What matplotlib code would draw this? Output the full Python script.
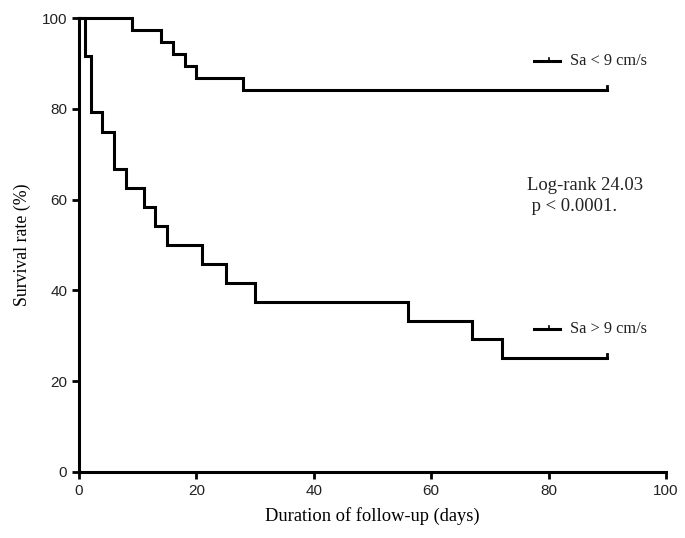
import matplotlib
matplotlib.use("Agg")
import matplotlib.pyplot as plt

# Kaplan-Meier step data (days, survival %)
low_times = [0, 9, 14, 16, 18, 20, 28, 90]
low_surv = [100, 97.4, 94.7, 92.1, 89.5, 86.8, 84.2, 84.2]
low_label = "Sa < 9 cm/s"

high_times = [0, 1, 2, 4, 6, 8, 11, 13, 15, 21, 25, 30, 56, 67, 72, 90]
high_surv = [100, 91.7, 79.2, 75.0, 66.7, 62.5, 58.3, 54.2, 50.0, 45.8, 41.7, 37.5, 33.3, 29.2, 25.0, 25.0]
high_label = "Sa > 9 cm/s"

x_ticks = [0, 20, 40, 60, 80, 100]
y_ticks = [0, 20, 40, 60, 80, 100]
x_label = "Duration of follow-up (days)"
y_label = "Survival rate (%)"
stat_text = "Log-rank 24.03\n p < 0.0001."

serif = ["Liberation Serif", "DejaVu Serif"]
sans = ["Liberation Sans", "DejaVu Sans"]

fig = plt.figure(figsize=(6.85, 5.38), dpi=100)
ax = fig.add_axes([0.1153, 0.1227, 0.857, 0.8438])

for t, s in [(low_times, low_surv), (high_times, high_surv)]:
    ax.step(t, s, where="post", color="black", lw=2.2, clip_on=False,
            solid_joinstyle="miter")
    # censor tick at the end
    ax.plot([t[-1], t[-1]], [s[-1], s[-1] + 0.9], color="black", lw=2.0,
            clip_on=False)

ax.set_xlim(0, 100)
ax.set_ylim(0, 100)
ax.set_xticks(x_ticks)
ax.set_yticks(y_ticks)
for sp in ["top", "right"]:
    ax.spines[sp].set_visible(False)
for sp in ["left", "bottom"]:
    ax.spines[sp].set_linewidth(2.2)
ax.tick_params(direction="out", length=5, width=2.0, labelsize=11)
for lab in ax.get_xticklabels() + ax.get_yticklabels():
    lab.set_fontfamily(sans)
    lab.set_color("#222222")

ax.set_xlabel(x_label, fontsize=13.3, family=serif, labelpad=7)
ax.set_ylabel(y_label, fontsize=12.8, family=serif, labelpad=8)

# legend-like entries
for label, yv in [(low_label, 90.6), (high_label, 31.5)]:
    ax.plot([77.5, 82.0], [yv, yv], color="black", lw=2.2)
    ax.plot([80.0, 80.0], [yv, yv + 0.6], color="black", lw=1.2)
    ax.text(83.7, yv, label, fontsize=11.8, family=serif, va="center", ha="left",
            color="#222222")

ax.text(76.3, 60.8, stat_text, fontsize=13.4, family=serif, va="center",
        ha="left", color="#222222", linespacing=1.25)

fig.savefig("out.png", dpi=100)
